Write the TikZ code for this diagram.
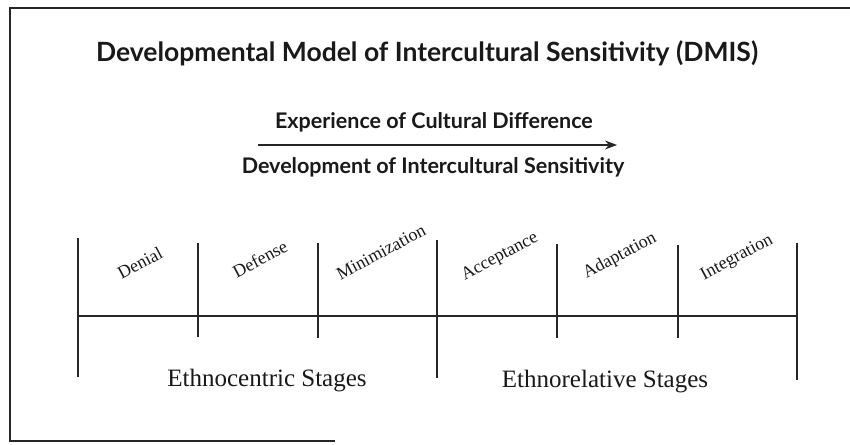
\documentclass[tikz,border=0pt]{standalone}
\usepackage{fontspec}
\setmainfont{Liberation Serif}
\newfontfamily\titlefont{Lato}
\usetikzlibrary{arrows.meta}
\begin{document}
\begin{tikzpicture}[x=1pt,y=-1pt,
  frameline/.style={line width=1.6pt,draw=black!85},
  axisline/.style={line width=1.6pt,draw=black!85},
  tick/.style={line width=1.4pt,draw=black!85},
  stagelabel/.style={font=\fontsize{18}{20}\selectfont,rotate=28,text=black!90,inner sep=0pt},
  grouplabel/.style={font=\fontsize{25}{29}\selectfont,text=black!90},
  headtext/.style={font=\titlefont\bfseries\fontsize{21.5}{25}\selectfont,text=black!90}]
\useasboundingbox (0,0) rectangle (850,444);
\fill[white] (0,0) rectangle (850,444);
% frame
\coordinate (fTR) at (850,8);
\coordinate (fTL) at (10,8);
\coordinate (fBL) at (10,441);
\coordinate (fBR) at (335,441);
\draw[frameline] (fTR) -- (fTL) -- (fBL) -- (fBR);
% title
\node[font=\titlefont\bfseries\fontsize{26.5}{30}\selectfont,text=black!90] (title) at (427,53) {Developmental Model of Intercultural Sensitivity (DMIS)};
% arrow
\node[headtext] (exp) at (434,122) {Experience of Cultural Difference};
\node[headtext] (dev) at (433,167) {Development of Intercultural Sensitivity};
\coordinate (aS) at (258,145);
\coordinate (aE) at (617,145);
\draw[line width=1.4pt,black!85,-{Stealth[length=12pt,width=9pt]}] (aS) -- (aE);
% ticks
\coordinate (t0a) at (78,238); \coordinate (t0b) at (78,377);
\coordinate (t1a) at (198,243); \coordinate (t1b) at (198,337);
\coordinate (t2a) at (318,243); \coordinate (t2b) at (318,338);
\coordinate (t3a) at (437,240); \coordinate (t3b) at (437,378);
\coordinate (t4a) at (557,244); \coordinate (t4b) at (557,338);
\coordinate (t5a) at (678,245); \coordinate (t5b) at (678,338);
\coordinate (t6a) at (797,243); \coordinate (t6b) at (797,380);
\foreach \i in {0,...,6} {\draw[tick] (t\i a) -- (t\i b);}
\coordinate (hL) at (78,316);
\coordinate (hR) at (797,316);
\draw[axisline] (hL) -- (hR);
% stage labels
\node[stagelabel] (denial) at (140,263) {Denial};
\node[stagelabel] (defense) at (260,259) {Defense};
\node[stagelabel] (mini) at (381,252) {Minimization};
\node[stagelabel] (acc) at (500,257) {Acceptance};
\node[stagelabel] (adap) at (620,256) {Adaptation};
\node[stagelabel] (integ) at (737,258) {Integration};
% groups
\node[grouplabel] (ethc) at (267,381) {Ethnocentric Stages};
\node[grouplabel] (ethr) at (605,382) {Ethnorelative Stages};
\end{tikzpicture}
\end{document}
